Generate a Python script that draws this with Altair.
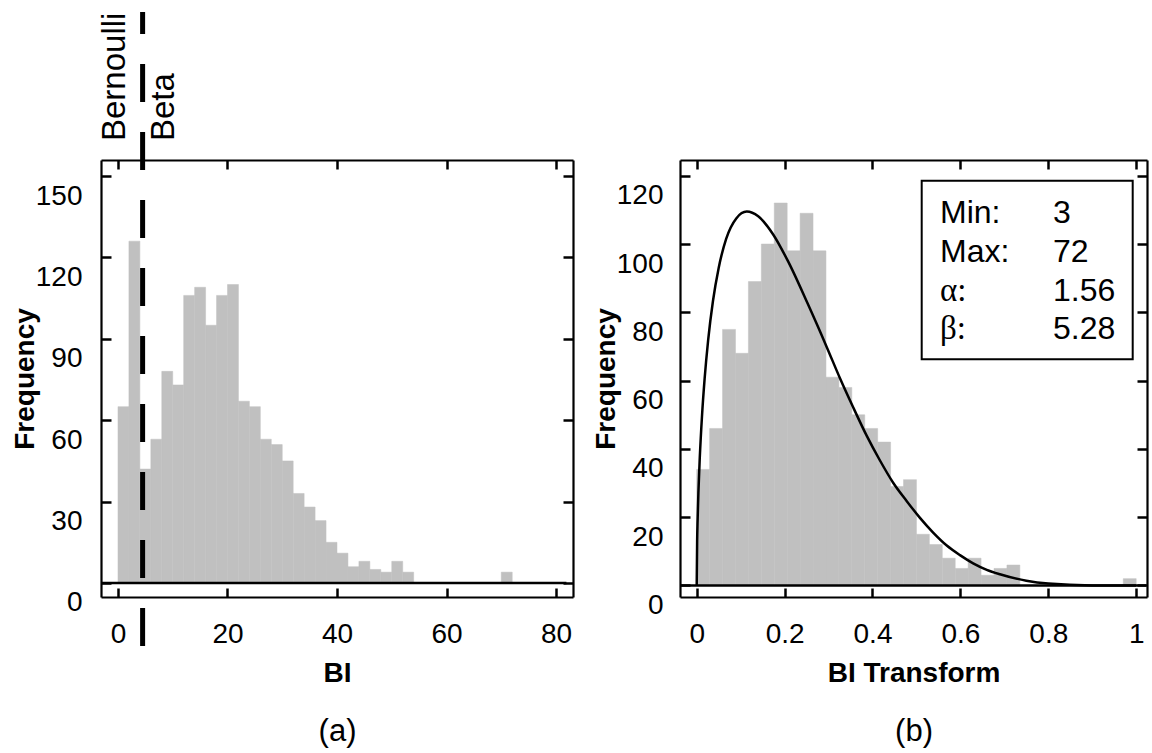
import altair as alt
import pandas as pd

# ---------------- data ----------------
bi_bin_width = 2
bi_bin_starts = list(range(0, 72, 2))
bi_counts = [65, 126, 42, 53, 78, 73, 106, 109, 95, 106, 110, 67, 65, 53, 51, 45, 33,
             28, 23, 15, 11, 6, 8, 5, 4, 8, 4, 0, 0, 0, 0, 0, 0, 0, 0, 4]

tr_nbins = 34
tr_counts = [34, 46, 75, 68, 89, 100, 112, 98, 109, 98, 61, 58, 50, 46, 42, 29, 31,
             15, 12, 8, 5, 8, 3, 5, 6, 0, 0, 0, 0, 0, 0, 0, 0, 2]

beta_curve_x = [0, 0.001, 0.002, 0.004, 0.007, 0.012, 0.018, 0.026, 0.037, 0.05, 0.067,
                0.09, 0.114, 0.14, 0.174, 0.208, 0.253, 0.296, 0.326, 0.356, 0.387,
                0.417, 0.447, 0.478, 0.508, 0.538, 0.569, 0.599, 0.629, 0.66, 0.69,
                0.75, 0.8, 0.9, 1.0]
beta_curve_y = [0, 12.9, 18.9, 27.7, 37.4, 49.5, 60.5, 71.8, 83.3, 93.0, 101.5,
                107.5, 109.5, 108.1, 102.8, 94.9, 82.4, 69.8, 60.7, 52.2, 43.8,
                36.6, 30.1, 24.7, 19.8, 15.5, 11.7, 8.9, 6.5, 4.6, 3.3,
                1.4, 0.56, 0.03, 0]

split_value = 4.5
split_labels = ["Bernoulli", "Beta"]

stat_names = ["Min:", "Max:", "α:", "β:"]
stat_values = ["3", "72", "1.56", "5.28"]

bi_ticks = [0, 20, 40, 60, 80]
bi_freq_ticks = [0, 30, 60, 90, 120, 150]
tr_ticks = [0, 0.2, 0.4, 0.6, 0.8, 1]
tr_freq_ticks = [0, 20, 40, 60, 80, 100, 120]

# ---------------- layout / style ----------------
W, H = 1152, 753
TOP, BOTTOM = 160, 597
A_LEFT, A_RIGHT = 101, 573
B_LEFT, B_RIGHT = 680, 1147
FONT = "Liberation Sans"
SERIF = "Liberation Serif"
GRAY = "#c0c0c0"

ax_dom = [-3.1, 83.1]
ay_dom = [-5.16, 155.9]
bx_dom = [-0.038, 1.0246]
by_dom = [-3.37, 124.6]


def sc(dom, rng):
    return alt.Scale(domain=dom, range=rng, nice=False, zero=False)


ax = lambda: sc(ax_dom, [A_LEFT, A_RIGHT])
ay = lambda: sc(ay_dom, [BOTTOM, TOP])
bx = lambda: sc(bx_dom, [B_LEFT, B_RIGHT])
by = lambda: sc(by_dom, [BOTTOM, TOP])


def x_axis(scale, tick_vals, **kw):
    df = pd.DataFrame({"v": tick_vals})
    return alt.Chart(df).mark_point(opacity=0).encode(
        x=alt.X("v:Q", scale=scale, axis=alt.Axis(values=tick_vals, zindex=2, **kw)))


def y_axis(scale, tick_vals, **kw):
    df = pd.DataFrame({"v": tick_vals})
    return alt.Chart(df).mark_point(opacity=0).encode(
        y=alt.Y("v:Q", scale=scale, axis=alt.Axis(values=tick_vals, zindex=2, **kw)))


def panel_axes(xs, ys, xticks, yticks, left, right, xtitle, caption, ytitle_x, lab_pad,
               xfmt):
    cx = (left + right) / 2
    cy = (TOP + BOTTOM) / 2
    return [
        # bottom labels + bottom frame line
        x_axis(xs(), xticks, orient="bottom", offset=BOTTOM - H, ticks=False, tickSize=0,
               domain=True, labels=True, labelPadding=37, labelBaseline="middle",
               format=xfmt, labelFlush=False, labelOverlap=False,
               title=xtitle, titleFontWeight="bold", titleX=cx, titleY=76,
               titleAlign="center", titleBaseline="middle"),
        # caption
        x_axis(xs(), xticks, orient="bottom", offset=BOTTOM - H, ticks=False, tickSize=0,
               domain=False, labels=False, title=caption, titleFontWeight="normal",
               titleFontSize=31, titleX=cx, titleY=134, titleAlign="center",
               titleBaseline="middle"),
        # top frame with inward ticks
        x_axis(xs(), xticks, orient="bottom", offset=TOP - H, ticks=True, tickSize=9,
               domain=True, labels=False, title=None),
        # bottom inward ticks
        x_axis(xs(), xticks, orient="top", offset=-BOTTOM, ticks=True, tickSize=9,
               domain=False, labels=False, title=None),
        # left labels + left frame line
        y_axis(ys(), yticks, orient="left", offset=-left, ticks=False, tickSize=0,
               domain=True, labels=True, labelPadding=lab_pad, labelOffset=20,
               labelAlign="right", labelBaseline="middle", labelOverlap=False,
               labelFlush=False,
               title="Frequency", titleFontWeight="bold", titleAngle=270,
               titleX=ytitle_x - left, titleY=cy, titleAlign="center",
               titleBaseline="middle"),
        # left inward ticks
        y_axis(ys(), yticks, orient="right", offset=left - W, ticks=True, tickSize=10,
               domain=False, labels=False, title=None),
        # right frame with inward ticks
        y_axis(ys(), yticks, orient="left", offset=-right, ticks=True, tickSize=10,
               domain=True, labels=False, title=None),
    ]


# ---------------- panel (a) ----------------
bi_df = pd.DataFrame({
    "start": bi_bin_starts,
    "end": [s + bi_bin_width for s in bi_bin_starts],
    "count": bi_counts,
})
bars_a = alt.Chart(bi_df).mark_bar(color=GRAY, stroke=GRAY, strokeWidth=0.5).encode(
    x=alt.X("start:Q", scale=ax(), axis=None),
    x2="end:Q",
    y=alt.Y("count:Q", scale=ay(), axis=None),
    y2=alt.datum(0),
)
base_a = alt.Chart(pd.DataFrame({"x0": [ax_dom[0]], "x1": [81.9], "y": [0]})).mark_rule(
    color="black", strokeWidth=2.5).encode(
    x=alt.X("x0:Q", scale=ax(), axis=None), x2="x1:Q",
    y=alt.Y("y:Q", scale=ay(), axis=None))
split_df = pd.DataFrame({"x": [split_value], "t0": [split_labels[0]], "t1": [split_labels[1]]})
dash_a = alt.Chart(split_df).mark_rule(color="black", strokeWidth=5,
                                       strokeDash=[38, 30]).encode(
    x=alt.X("x:Q", scale=ax(), axis=None), y=alt.value(646), y2=alt.value(12))
txt_bern = alt.Chart(split_df).mark_text(angle=270, align="left", baseline="alphabetic",
                                         fontSize=33, font=FONT, dy=-17.5,
                                         color="black").encode(
    x=alt.X("x:Q", scale=ax(), axis=None), y=alt.value(141), text="t0:N")
txt_beta = alt.Chart(split_df).mark_text(angle=270, align="left", baseline="alphabetic",
                                         fontSize=33, font=FONT, dy=31.5,
                                         color="black").encode(
    x=alt.X("x:Q", scale=ax(), axis=None), y=alt.value(141), text="t1:N")

panel_a = alt.layer(
    bars_a, base_a, dash_a, txt_bern, txt_beta,
    *panel_axes(ax, ay, bi_ticks, bi_freq_ticks, A_LEFT, A_RIGHT, "BI", "(a)", 25, 19,
                "d"),
).resolve_axis(x="independent", y="independent")

# ---------------- panel (b) ----------------
tr_df = pd.DataFrame({
    "start": [i / tr_nbins for i in range(tr_nbins)],
    "end": [(i + 1) / tr_nbins for i in range(tr_nbins)],
    "count": tr_counts,
})
bars_b = alt.Chart(tr_df).mark_bar(color=GRAY, stroke=GRAY, strokeWidth=0.5).encode(
    x=alt.X("start:Q", scale=bx(), axis=None),
    x2="end:Q",
    y=alt.Y("count:Q", scale=by(), axis=None),
    y2=alt.datum(0),
)
base_b = alt.Chart(pd.DataFrame({"x0": [bx_dom[0]], "x1": [1.023], "y": [0]})).mark_rule(
    color="black", strokeWidth=2.5).encode(
    x=alt.X("x0:Q", scale=bx(), axis=None), x2="x1:Q",
    y=alt.Y("y:Q", scale=by(), axis=None))
curve_b = alt.Chart(pd.DataFrame({"x": beta_curve_x, "y": beta_curve_y})).mark_line(
    color="black", strokeWidth=2.5, interpolate="monotone").encode(
    x=alt.X("x:Q", scale=bx(), axis=None),
    y=alt.Y("y:Q", scale=by(), axis=None))

one = pd.DataFrame({"k": [0]})
box_b = alt.Chart(one).mark_rect(fillOpacity=0, stroke="black", strokeWidth=2).encode(
    x=alt.value(921.7), x2=alt.value(1132.7), y=alt.value(180.7), y2=alt.value(359.3))
LH = 38.7
names_sans = alt.Chart(one).mark_text(align="left", baseline="alphabetic", fontSize=32,
                                      font=FONT, lineHeight=LH, color="black").encode(
    x=alt.value(940), y=alt.value(223.2), text=alt.value(stat_names[:2]))
names_serif = alt.Chart(one).mark_text(align="left", baseline="alphabetic", fontSize=33,
                                       font=SERIF, lineHeight=LH, color="black").encode(
    x=alt.value(940), y=alt.value(223.2 + 2 * LH), text=alt.value(stat_names[2:]))
vals = alt.Chart(one).mark_text(align="left", baseline="alphabetic", fontSize=32,
                                font=FONT, lineHeight=LH, color="black").encode(
    x=alt.value(1053), y=alt.value(223.2), text=alt.value(stat_values))

panel_b = alt.layer(
    bars_b, base_b, curve_b, box_b, names_sans, names_serif, vals,
    *panel_axes(bx, by, tr_ticks, tr_freq_ticks, B_LEFT, B_RIGHT, "BI Transform", "(b)",
                606, 17, ".6~g"),
).resolve_axis(x="independent", y="independent")

chart = alt.layer(panel_a, panel_b).resolve_scale(
    x="independent", y="independent"
).properties(
    width=W, height=H, autosize=alt.AutoSizeParams(type="none"), padding=0
).configure_view(stroke=None).configure_axis(
    domainColor="black", tickColor="black", labelColor="black", titleColor="black",
    labelFont=FONT, titleFont=FONT, labelFontSize=28, titleFontSize=28,
    domainWidth=2.2, tickWidth=2.5, grid=False,
)

chart.save("out.html", embed_options={"renderer": "svg", "actions": False})
